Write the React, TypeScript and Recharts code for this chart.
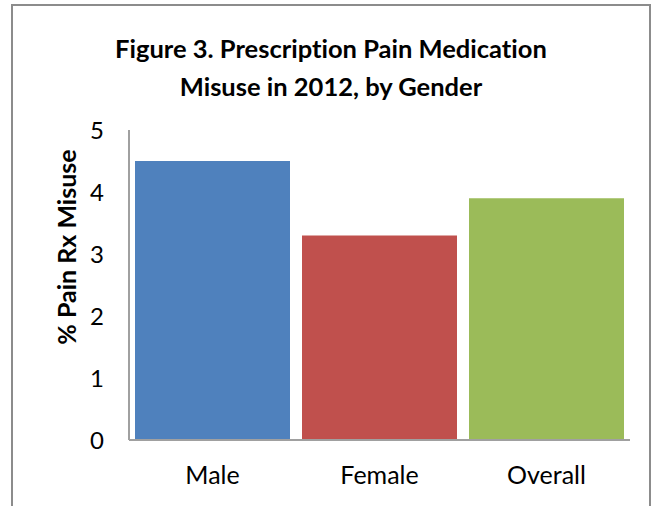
import React from 'react';
import { BarChart, Bar, XAxis, YAxis, Cell } from 'recharts';

const groups = ['Male', 'Female', 'Overall'];
const misuseRates = [4.5, 3.3, 3.9];
const barColors = ['#4f81bd', '#c0504d', '#9bbb59'];
const yTicks = [0, 1, 2, 3, 4, 5];

const FONT = 'Lato, "Open Sans", sans-serif';
const noLig = { fontVariantLigatures: 'none' } as React.CSSProperties;

const data = groups.map((g, i) => ({ group: g, rate: misuseRates[i] }));

// rotated axis title, placed to the left of the tick numbers
const YLabel = () => (
  <text
    x={66}
    y={247}
    transform="rotate(-90, 66, 247)"
    textAnchor="middle"
    dominantBaseline="central"
    fontFamily={FONT}
    fontWeight="bold"
    fontSize={25}
    fill="#000"
    style={noLig}
  >
    % Pain Rx Misuse
  </text>
);

const App: React.FC = () => {
  return (
    <div style={{ position: 'absolute', left: 0, top: 0, width: 662, height: 506, background: '#fff', overflow: 'hidden' }}>
      <div
        style={{
          position: 'absolute',
          left: 11,
          top: 4,
          width: 640,
          height: 540,
          border: '2px solid #8c8c8c',
          boxSizing: 'border-box',
        }}
      />
      <div
        style={{
          position: 'absolute',
          left: 0,
          top: 29,
          width: 662,
          textAlign: 'center',
          fontFamily: FONT,
          fontWeight: 'bold',
          fontSize: 25.5,
          lineHeight: '38px',
          color: '#000',
          ...noLig,
        }}
      >
        Figure 3. Prescription Pain Medication
        <br />
        Misuse in 2012, by Gender
      </div>
      <div style={{ position: 'absolute', left: 0, top: 0 }}>
        <BarChart
          width={662}
          height={506}
          data={data}
          margin={{ top: 130, right: 32, bottom: 26, left: 0 }}
          barCategoryGap={6}
        >
          <XAxis
            dataKey="group"
            axisLine={{ stroke: '#a0a0a0', strokeWidth: 2 }}
            tickLine={false}
            tickMargin={20}
            height={40}
            tick={{ fontFamily: FONT, fontSize: 25, fill: '#000', style: noLig }}
          />
          <YAxis
            width={129}
            domain={[0, 5]}
            ticks={yTicks}
            axisLine={{ stroke: '#a0a0a0', strokeWidth: 2 }}
            tickLine={false}
            tickMargin={19}
            tick={{ fontFamily: FONT, fontSize: 24, fill: '#000' }}
            label={<YLabel />}
          />
          <Bar dataKey="rate" isAnimationActive={false}>
            {data.map((d, i) => (
              <Cell key={d.group} fill={barColors[i]} />
            ))}
          </Bar>
        </BarChart>
      </div>
    </div>
  );
};

export default App;
